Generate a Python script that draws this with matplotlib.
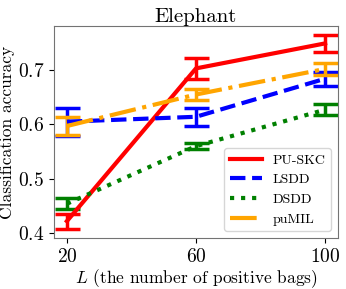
import matplotlib
matplotlib.use("Agg")
import matplotlib.pyplot as plt
from matplotlib.lines import Line2D

plt.rcParams['font.family'] = 'serif'
plt.rcParams['font.serif'] = ['cmr10']
plt.rcParams['mathtext.fontset'] = 'cm'
plt.rcParams['axes.formatter.use_mathtext'] = True
plt.rcParams['axes.unicode_minus'] = False

L = [20, 60, 100]
methods = ['PU-SKC', 'LSDD', 'DSDD', 'puMIL']
means = {
    'PU-SKC': [0.422, 0.703, 0.749],
    'LSDD': [0.605, 0.614, 0.684],
    'DSDD': [0.454, 0.560, 0.627],
    'puMIL': [0.597, 0.655, 0.702],
}
errs = {
    'PU-SKC': [0.014, 0.020, 0.015],
    'LSDD': [0.026, 0.017, 0.013],
    'DSDD': [0.010, 0.006, 0.010],
    'puMIL': [0.016, 0.011, 0.011],
}
colors = {'PU-SKC': 'red', 'LSDD': 'blue', 'DSDD': 'green', 'puMIL': 'orange'}
styles = {'PU-SKC': '-', 'LSDD': '--', 'DSDD': ':', 'puMIL': '-.'}

fig = plt.figure(figsize=(3.46, 2.89), dpi=100)
ax = fig.add_axes([54 / 346, 1 - 238 / 289, 284 / 346, 212 / 289])

handles = []
for m in methods:
    ax.errorbar(L, means[m], yerr=errs[m], color=colors[m], linestyle=styles[m],
                linewidth=3, elinewidth=2.5, capsize=9, capthick=2.5)
    handles.append(Line2D([], [], color=colors[m], linestyle=styles[m], linewidth=3, label=m))

ax.set_xlim(16, 104)
ax.set_ylim(0.391, 0.781)
ax.set_xticks(L)
ax.set_yticks([0.4, 0.5, 0.6, 0.7])
ax.tick_params(labelsize=14)
for s in ax.spines.values():
    s.set_color('0.45')
ax.set_title('Elephant', fontsize=15, pad=3)
ax.set_xlabel(r'$L$ (the number of positive bags)', fontsize=12.5, labelpad=1)
ax.set_ylabel('Classification accuracy', fontsize=12.5, labelpad=2)
ax.legend(handles=handles, loc='lower right', fontsize=10, handlelength=2.3,
          borderaxespad=0.5)
fig.savefig('out.png', dpi=100)
